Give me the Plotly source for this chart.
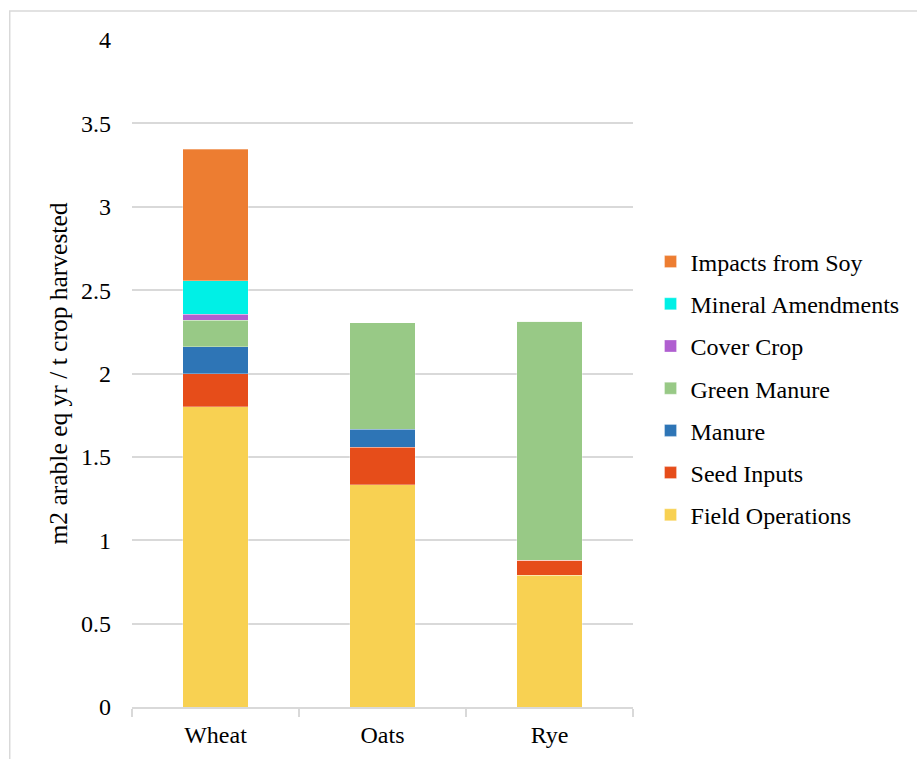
import plotly.graph_objects as go

crops = ["Wheat", "Oats", "Rye"]

field_operations = [1.80, 1.333, 0.79]
seed_inputs = [0.20, 0.224, 0.09]
manure = [0.16, 0.108, 0.0]
green_manure = [0.16, 0.64, 1.433]
cover_crop = [0.036, 0.0, 0.0]
mineral_amendments = [0.20, 0.0, 0.0]
impacts_from_soy = [0.79, 0.0, 0.0]

series = [
    ("Field Operations", field_operations, "#F8D152"),
    ("Seed Inputs", seed_inputs, "#E64D1A"),
    ("Manure", manure, "#2E75B6"),
    ("Green Manure", green_manure, "#98C986"),
    ("Cover Crop", cover_crop, "#B05FD0"),
    ("Mineral Amendments", mineral_amendments, "#00F0E6"),
    ("Impacts from Soy", impacts_from_soy, "#ED7D31"),
]

y_ticks = [0, 0.5, 1, 1.5, 2, 2.5, 3, 3.5, 4]
y_tick_labels = ["0", "0.5", "1", "1.5", "2", "2.5", "3", "3.5", "4"]

FONT = "Liberation Serif, Times New Roman, serif"
GRID = "#D9D9D9"

L, R, T, B = 132, 281, 40, 52
PW, PH = 917 - L - R, 759 - T - B

fig = go.Figure()
n = len(series)
for i, (name, values, color) in enumerate(series):
    fig.add_trace(go.Bar(
        x=crops, y=values, name=name, legendgroup=name,
        legendrank=n - i,  # top segment listed first
        marker=dict(color=color, line=dict(color="rgba(255,255,255,0.6)", width=0.5)),
    ))

fig.update_layout(
    width=917, height=759,
    margin=dict(l=L, r=R, t=T, b=B),
    barmode="stack", bargap=0.605,
    paper_bgcolor="white", plot_bgcolor="white",
    font=dict(family=FONT, size=24, color="#000000"),
    showlegend=True,
    legend=dict(
        traceorder="grouped", tracegroupgap=8,
        x=1.035, xanchor="left", y=0.4775, yanchor="middle",
        font=dict(family=FONT, size=24, color="#000000"),
        itemwidth=30,
    ),
    xaxis=dict(
        type="category", range=[-0.5, 2.5],
        showline=True, linecolor=GRID, linewidth=1.5,
        ticks="outside", tickson="boundaries", ticklen=8, tickcolor=GRID, tickwidth=1.5,
        showgrid=False, ticklabelstandoff=5,
    ),
    yaxis=dict(
        range=[0, 4], tickvals=y_ticks, ticktext=y_tick_labels,
        showgrid=True, gridcolor=GRID, gridwidth=1.5,
        zeroline=False, showline=False, ticks="",
        ticklabelstandoff=20,
        title=dict(text="m2 arable eq yr / t crop harvested", standoff=6,
                   font=dict(family=FONT, size=25.5, color="#000000")),
    ),
    shapes=[dict(
        type="rect", xref="paper", yref="paper",
        x0=(9 - L) / PW, x1=2.0, y0=-0.5, y1=1 + (T - 11) / PH,
        line=dict(color=GRID, width=1.5), fillcolor="rgba(0,0,0,0)", layer="below",
    )],
)

fig.write_html("out.html")
